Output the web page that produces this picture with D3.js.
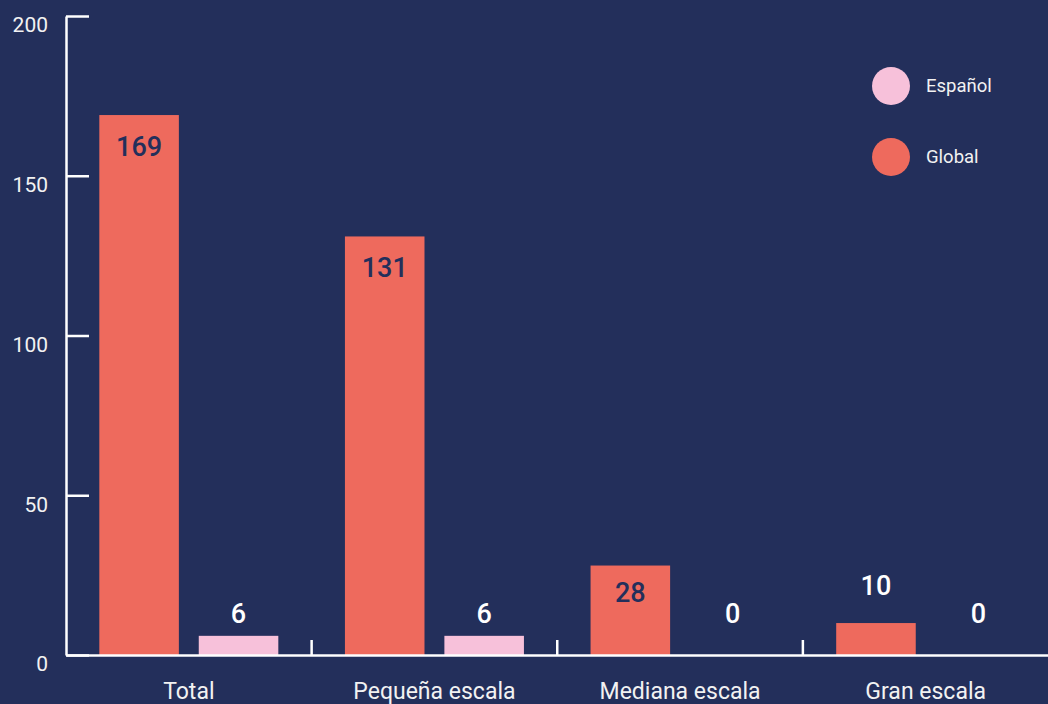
<!DOCTYPE html>
<html><head><meta charset="utf-8">
<script src="https://cdn.jsdelivr.net/npm/d3@7/dist/d3.min.js"></script>
<style>
html,body{margin:0;padding:0;background:#232F5B;overflow:hidden;}
svg{display:block;font-family:Roboto,"Noto Sans",sans-serif;}
</style></head><body>
<svg id="c" width="1048" height="704"></svg>
<script>
const categories = ["Total", "Pequeña escala", "Mediana escala", "Gran escala"];
const seriesNames = ["Global", "Español"];
const globalValues = [169, 131, 28, 10];
const espanolValues = [6, 6, 0, 0];
const yTicks = [0, 50, 100, 150, 200];

const colors = {Global: "#EE6A5D", "Español": "#F7C1DA"};
const bg = "#232F5B";
const W = 1048, H = 704;
const m = {left: 66, right: 0, top: 16, bottom: 49};
const svg = d3.select("#c");
svg.append("rect").attr("width", W).attr("height", H).attr("fill", bg);

const y = d3.scaleLinear().domain([0, 200]).range([H - m.bottom, m.top]);
const x0 = d3.scaleBand().domain(categories).range([m.left, W + 0.5]);
const x1 = d3.scaleBand().domain(seriesNames).range([0, x0.bandwidth()]).paddingInner(0.2).paddingOuter(0.335);

const data = categories.map((c, i) => ({cat: c, vals: [
  {s: "Global", v: globalValues[i]},
  {s: "Español", v: espanolValues[i]}
]}));

// bars
const g = svg.append("g");
const groups = g.selectAll("g.cat").data(data).join("g").attr("transform", d => `translate(${x0(d.cat)},0)`);
groups.selectAll("rect").data(d => d.vals).join("rect")
  .attr("x", d => x1(d.s)).attr("width", x1.bandwidth())
  .attr("y", d => y(d.v)).attr("height", d => y(0) - y(d.v))
  .attr("fill", d => colors[d.s]);

// labels
groups.selectAll("text").data(d => d.vals).join("text")
  .attr("x", d => x1(d.s) + x1.bandwidth() / 2 + (d.v === 0 ? 3 : 0))
  .attr("y", d => {
    if (d.v >= 100) return y(d.v) + 41;
    if (d.v >= 20) return y(d.v) + 36;
    if (d.s === "Global") return y(d.v) - 28;
    return Math.min(y(d.v) - 13, y(10));
  })
  .attr("text-anchor", "middle")
  .attr("font-size", 27).attr("font-weight", 500)
  .attr("fill", d => d.v >= 20 ? bg : "#FFFFFF")
  .text(d => d.v);

// y axis
const ya = svg.append("g").attr("transform", `translate(${m.left},0)`)
  .call(d3.axisLeft(y).tickValues(yTicks).tickSizeInner(-23).tickSizeOuter(0));
ya.select(".domain").attr("stroke", "#FFFFFF").attr("stroke-width", 2.5);
ya.selectAll(".tick line").attr("stroke", "#FFFFFF").attr("stroke-width", 2.5);
ya.selectAll(".tick text").attr("fill", "#F2F2F2").attr("font-size", 21)
  .attr("font-family", "Roboto").attr("x", -18).attr("dy", "0.75em");

// x axis
const xa = svg.append("g").attr("transform", `translate(0,${y(0)})`)
  .call(d3.axisBottom(x0).tickSize(0).tickSizeOuter(0));
xa.select(".domain").attr("stroke", "#FFFFFF").attr("stroke-width", 2.5);
xa.selectAll(".tick text").attr("fill", "#F2F2F2").attr("font-size", 23)
  .attr("font-family", "Roboto").attr("y", 28).attr("dy", "0.71em");
// boundary ticks
svg.append("g").selectAll("line").data(categories.slice(1)).join("line")
  .attr("x1", d => x0(d)).attr("x2", d => x0(d))
  .attr("y1", y(0)).attr("y2", y(0) - 15)
  .attr("stroke", "#FFFFFF").attr("stroke-width", 2.5);

// legend
const legendOrder = ["Español", "Global"];
const lg = svg.append("g");
const ly = d3.scalePoint().domain(legendOrder).range([86, 157]);
lg.selectAll("circle").data(legendOrder).join("circle")
  .attr("cx", 891).attr("cy", d => ly(d)).attr("r", 19).attr("fill", d => colors[d]);
lg.selectAll("text").data(legendOrder).join("text")
  .attr("x", 926).attr("y", d => ly(d)).attr("dy", "0.35em")
  .attr("font-size", 18.5).attr("fill", "#F2F2F2").text(d => d);
</script>
</body></html>
